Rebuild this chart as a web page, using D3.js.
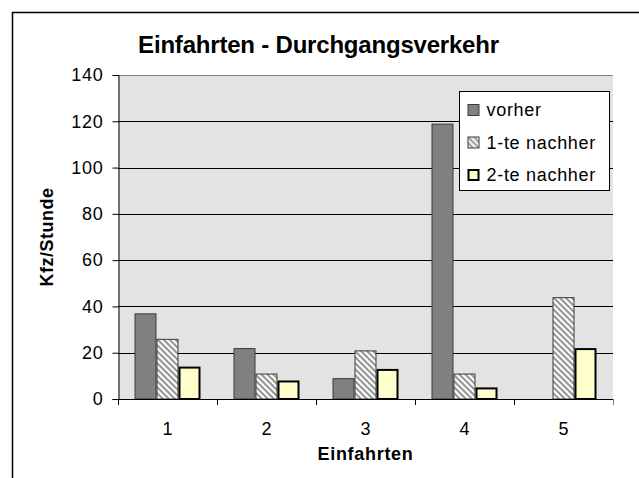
<!DOCTYPE html>
<html>
<head>
<meta charset="utf-8">
<script src="https://cdn.jsdelivr.net/npm/d3@7"></script>
<style>
  body { margin: 0; background: #fff; }
  text { font-family: "Liberation Sans", Arial, sans-serif; }
</style>
</head>
<body>
<div id="chart"></div>
<script>
var categories = ['1', '2', '3', '4', '5'];
var seriesNames = ['vorher', '1-te nachher', '2-te nachher'];
var vorher = [37, 22, 9, 119, 0];
var nachher1 = [26, 11, 21, 11, 44];
var nachher2 = [14, 8, 13, 5, 22];
var yTicks = [0, 20, 40, 60, 80, 100, 120, 140];

var W = 639, H = 478;
var pLeft = 118, pRight = 613, pTop = 75, pBottom = 399;
var FS = 18, LS = '0.7px';

var svg = d3.select('#chart').append('svg')
    .attr('width', W)
    .attr('height', H);

var defs = svg.append('defs');
var pat = defs.append('pattern')
    .attr('id', 'hatch')
    .attr('patternUnits', 'userSpaceOnUse')
    .attr('width', 6).attr('height', 6);
pat.append('rect').attr('width', 6).attr('height', 6).attr('fill', '#ffffff');
pat.append('path')
    .attr('d', 'M0,0 L6,6 M-3,3 L3,9 M3,-3 L9,3')
    .attr('stroke', '#999999')
    .attr('stroke-width', 2.2);

// outer chart border (only left/top visible in the picture)
svg.append('rect')
    .attr('x', 12.5).attr('y', 12.5)
    .attr('width', W + 10).attr('height', H + 10)
    .attr('fill', 'none').attr('stroke', '#000').attr('stroke-width', 1.5);

var x0 = d3.scaleBand().domain(categories).range([pLeft, pRight]).paddingInner(0).paddingOuter(0);
var x1 = d3.scaleBand().domain(seriesNames).range([16.5, x0.bandwidth() - 16.5]);
var y = d3.scaleLinear().domain([0, 140]).range([pBottom, pTop]);

// plot area
svg.append('rect')
    .attr('x', pLeft).attr('y', pTop)
    .attr('width', pRight - pLeft).attr('height', pBottom - pTop)
    .attr('fill', '#e3e3e3');

// gridlines
svg.append('g').selectAll('line')
    .data(yTicks.filter(function (d) { return d > 0; }))
    .enter().append('line')
    .attr('x1', pLeft).attr('x2', pRight)
    .attr('y1', function (d) { return Math.round(y(d)) + 0.5; })
    .attr('y2', function (d) { return Math.round(y(d)) + 0.5; })
    .attr('stroke', function (d) { return d === 140 ? '#808080' : '#000'; })
    .attr('stroke-width', 1);

var data = categories.map(function (c, i) {
    return { cat: c, vals: [vorher[i], nachher1[i], nachher2[i]] };
});

var fills = ['#808080', 'url(#hatch)', '#ffffcc'];
var strokes = ['#3a3a3a', '#3a3a3a', '#000'];
var sw = [1, 1, 2];

var groups = svg.append('g').selectAll('g')
    .data(data).enter().append('g')
    .attr('transform', function (d) { return 'translate(' + x0(d.cat) + ',0)'; });

groups.selectAll('rect')
    .data(function (d) {
        return d.vals.map(function (v, k) { return { k: k, v: v }; })
            .filter(function (e) { return e.v > 0; });
    })
    .enter().append('rect')
    .attr('x', function (d) { return x1(seriesNames[d.k]) + sw[d.k] / 2; })
    .attr('y', function (d) { return y(d.v) + sw[d.k] / 2; })
    .attr('width', function (d) { return x1.bandwidth() - sw[d.k]; })
    .attr('height', function (d) { return y(0) - y(d.v) - sw[d.k] / 2; })
    .attr('fill', function (d) { return fills[d.k]; })
    .attr('stroke', function (d) { return strokes[d.k]; })
    .attr('stroke-width', function (d) { return sw[d.k]; });

// y axis
var yAxis = svg.append('g')
    .attr('transform', 'translate(' + (pLeft + 0.5) + ',0)')
    .call(d3.axisLeft(y).tickValues(yTicks).tickSize(6).tickPadding(9));
yAxis.select('.domain').attr('stroke', '#000');
yAxis.selectAll('.tick line').attr('stroke', '#000');
yAxis.selectAll('text')
    .attr('font-size', FS).attr('fill', '#000')
    .attr('letter-spacing', LS)
    .attr('font-family', '"Liberation Sans", Arial, sans-serif');

// x axis: ticks at category boundaries
var xAxisG = svg.append('g');
xAxisG.append('line')
    .attr('x1', pLeft).attr('x2', pRight + 1)
    .attr('y1', pBottom + 0.5).attr('y2', pBottom + 0.5)
    .attr('stroke', '#000');
xAxisG.selectAll('line.tk')
    .data(d3.range(categories.length + 1))
    .enter().append('line')
    .attr('class', 'tk')
    .attr('x1', function (i) { return Math.round(pLeft + i * x0.step()) + 0.5; })
    .attr('x2', function (i) { return Math.round(pLeft + i * x0.step()) + 0.5; })
    .attr('y1', pBottom).attr('y2', pBottom + 6)
    .attr('stroke', function (i) { return i === categories.length ? '#808080' : '#000'; });
xAxisG.selectAll('text')
    .data(categories).enter().append('text')
    .attr('x', function (d) { return x0(d) + x0.bandwidth() / 2; })
    .attr('y', 435)
    .attr('text-anchor', 'middle')
    .attr('font-size', FS)
    .text(function (d) { return d; });

// titles
svg.append('text')
    .attr('x', 318.5).attr('y', 53)
    .attr('text-anchor', 'middle')
    .attr('font-size', 24).attr('font-weight', 'bold')
    .attr('letter-spacing', '-0.2px')
    .text('Einfahrten - Durchgangsverkehr');

svg.append('text')
    .attr('x', (pLeft + pRight) / 2).attr('y', 460)
    .attr('text-anchor', 'middle')
    .attr('font-size', FS).attr('font-weight', 'bold')
    .attr('letter-spacing', LS)
    .text('Einfahrten');

svg.append('text')
    .attr('transform', 'translate(53,' + ((pTop + pBottom) / 2) + ') rotate(-90)')
    .attr('text-anchor', 'middle')
    .attr('font-size', FS).attr('font-weight', 'bold')
    .attr('letter-spacing', '0.5px')
    .text('Kfz/Stunde');

// legend
var lg = svg.append('g').attr('transform', 'translate(459.5,91.5)');
lg.append('rect')
    .attr('width', 150).attr('height', 99)
    .attr('fill', '#fff').attr('stroke', '#000');
var li = lg.selectAll('g.item')
    .data(seriesNames).enter().append('g')
    .attr('transform', function (d, i) { return 'translate(8,' + (24.5 + i * 32.5) + ')'; });
li.append('rect')
    .attr('x', function (d, i) { return sw[i] / 2; })
    .attr('y', function (d, i) { return -12 + sw[i] / 2; })
    .attr('width', function (d, i) { return 12 - sw[i]; })
    .attr('height', function (d, i) { return 12 - sw[i]; })
    .attr('fill', function (d, i) { return fills[i]; })
    .attr('stroke', function (d, i) { return strokes[i]; })
    .attr('stroke-width', function (d, i) { return sw[i]; });
li.append('text')
    .attr('x', 19).attr('y', 0)
    .attr('font-size', FS)
    .attr('letter-spacing', LS)
    .text(function (d) { return d; });
</script>
</body>
</html>
